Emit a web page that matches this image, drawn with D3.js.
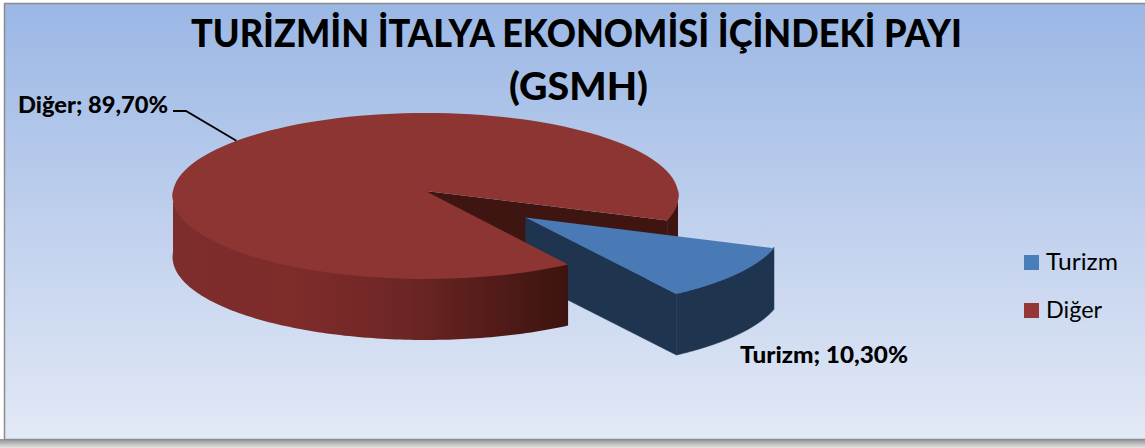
<!DOCTYPE html>
<html>
<head>
<meta charset="utf-8">
<script src="https://cdnjs.cloudflare.com/ajax/libs/d3/7.8.5/d3.min.js"></script>
<style>
  html, body { margin: 0; padding: 0; background: #fff; }
  svg { display: block; }
  text { font-family: Lato, "Open Sans", sans-serif; fill: #000; }
</style>
</head>
<body>
<div class="chart"></div>
<script>
const width = 1145
const height = 448

const categories = ["Turizm", "Diğer"]
const values = [10.3, 89.7]
const titleLines = ["TURİZMİN İTALYA EKONOMİSİ İÇİNDEKİ PAYI", "(GSMH)"]

const rad = Math.PI / 180
const firstAngle = 110.5 * rad
const explode = 0.5
const depth = 61
const lean = 0.06

const xScale = d3.scaleLinear().domain([-1, 1]).range([173, 678])
const yScale = d3.scaleLinear().domain([-1, 1]).range([273.7, 108.3])

// disc coordinates to screen, with a little perspective towards the viewer
const project = (u, v, drop = 0) => {
  const w = 1 + lean * v
  return [xScale(u / w), yScale(v / w) + drop]
}

const slices = d3.pie().sort(null)
  .startAngle(firstAngle)
  .endAngle(firstAngle + 2 * Math.PI)(values)

const shift = (d) => {
  if (d.index !== 0) return [0, 0]
  const mid = (d.startAngle + d.endAngle) / 2
  return [explode * Math.sin(mid), explode * Math.cos(mid)]
}

const line = d3.line()

const rim = (d, a, drop = 0) => {
  const [du, dv] = shift(d)
  return project(Math.sin(a) + du, Math.cos(a) + dv, drop)
}
const apex = (d, drop = 0) => {
  const [du, dv] = shift(d)
  return project(du, dv, drop)
}
const arcPoints = (d, a0, a1, drop = 0) =>
  d3.range(0, 121).map(i => rim(d, a0 + (a1 - a0) * i / 120, drop))

const topPath = (d) => line([apex(d), ...arcPoints(d, d.startAngle, d.endAngle)]) + "Z"
// walls start a pixel under the top face so no seam shows along the rim
const wallPath = (d, a0, a1) =>
  line([...arcPoints(d, a0, a1, -1), ...arcPoints(d, a1, a0, depth)]) + "Z"
const cutPath = (d, a) =>
  line([apex(d), rim(d, a), rim(d, a, depth), apex(d, depth)]) + "Z"

const svg = d3.select(".chart").append("svg")
  .attr("width", width)
  .attr("height", height)

const defs = svg.append("defs")

const bg = defs.append("linearGradient")
  .attr("id", "bg").attr("x1", 0).attr("y1", 0).attr("x2", 0).attr("y2", 1)
bg.append("stop").attr("offset", "0%").attr("stop-color", "#9ab7e5")
bg.append("stop").attr("offset", "50%").attr("stop-color", "#c0d0ed")
bg.append("stop").attr("offset", "100%").attr("stop-color", "#e2e9f6")

const shadow = defs.append("linearGradient")
  .attr("id", "shadow").attr("x1", 0).attr("y1", 0).attr("x2", 0).attr("y2", 1)
shadow.append("stop").attr("offset", "0%").attr("stop-color", "#8f8f8f")
shadow.append("stop").attr("offset", "100%").attr("stop-color", "#e6e6e6")

const redWall = defs.append("linearGradient")
  .attr("id", "red-wall").attr("gradientUnits", "userSpaceOnUse")
  .attr("x1", 172).attr("y1", 0).attr("x2", 568).attr("y2", 0)
redWall.append("stop").attr("offset", "0%").attr("stop-color", "#7d2d2c")
redWall.append("stop").attr("offset", "30%").attr("stop-color", "#7f2c2b")
redWall.append("stop").attr("offset", "60%").attr("stop-color", "#6c2624")
redWall.append("stop").attr("offset", "78%").attr("stop-color", "#561d1a")
redWall.append("stop").attr("offset", "100%").attr("stop-color", "#3d1310")

// frame
svg.append("rect").attr("x", 0).attr("y", 439).attr("width", width).attr("height", 9)
  .attr("fill", "url(#shadow)")
svg.append("rect").attr("x", 4.5).attr("y", 3.5).attr("width", width).attr("height", 436)
  .attr("fill", "url(#bg)").attr("stroke", "#8c8c8c").attr("stroke-width", 1.5)

// title
svg.append("g").selectAll("text")
  .data(titleLines)
  .join("text")
  .attr("x", (d, i) => [191, 509][i])
  .attr("y", (d, i) => [47, 100][i])
  .attr("textLength", (d, i) => [771, 139][i])
  .attr("lengthAdjust", "spacingAndGlyphs")
  .attr("font-size", 38)
  .attr("font-weight", 900)
  .text(d => d)

const [turizm, diger] = slices
const pie = svg.append("g")

// red, parts that sit behind the blue slice
pie.append("path").attr("d", cutPath(diger, diger.endAngle)).attr("fill", "#3e1511")
pie.append("path").attr("d", wallPath(diger, 90 * rad, firstAngle)).attr("fill", "#3e1511")

// blue slice
pie.append("path").attr("d", cutPath(turizm, turizm.endAngle))
  .attr("fill", "#1f344f").attr("stroke", "#1f344f").attr("stroke-width", 0.5)
pie.append("path").attr("d", wallPath(turizm, turizm.startAngle, turizm.endAngle))
  .attr("fill", "#1f344f").attr("stroke", "#1f344f").attr("stroke-width", 0.5)
pie.append("path").attr("d", topPath(turizm)).attr("fill", "#4a7ab5")

// red, front wall and top go over the blue wall
pie.append("path").attr("d", wallPath(diger, diger.startAngle, 270 * rad)).attr("fill", "url(#red-wall)")
pie.append("path").attr("d", topPath(diger)).attr("fill", "#8c3533")

// data labels
const labelText = (i) => `${categories[i]}; ${values[i].toFixed(2).replace(".", ",")}%`

svg.append("path")
  .attr("d", line([[173, 111], [186, 111], rim(diger, 309 * rad)]))
  .attr("fill", "none")
  .attr("stroke", "#000")
  .attr("stroke-width", 1.8)

svg.append("g").selectAll("text")
  .data(categories)
  .join("text")
  .attr("x", (d, i) => [740, 18][i])
  .attr("y", (d, i) => [363, 113][i])
  .attr("textLength", (d, i) => [168, 150][i])
  .attr("lengthAdjust", "spacingAndGlyphs")
  .attr("font-size", 23)
  .attr("font-weight", 900)
  .text((d, i) => labelText(i))

// legend
const legendY = d3.scalePoint().domain(categories).range([255, 303])
const legendColor = d3.scaleOrdinal().domain(categories).range(["#4a7ebb", "#953735"])

const legend = svg.append("g").selectAll("g")
  .data(categories)
  .join("g")
  .attr("transform", d => `translate(1024,${legendY(d)})`)

legend.append("rect")
  .attr("width", 15)
  .attr("height", 15)
  .attr("fill", d => legendColor(d))

legend.append("text")
  .attr("x", 22)
  .attr("y", 15)
  .attr("textLength", (d, i) => [72, 56][i])
  .attr("lengthAdjust", "spacingAndGlyphs")
  .attr("font-size", 23)
  .text(d => d)
</script>
</body>
</html>
